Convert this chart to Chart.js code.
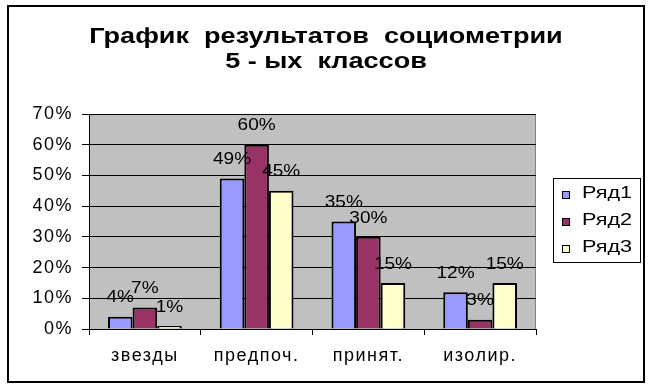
<!DOCTYPE html>
<html>
<head>
<meta charset="utf-8">
<script src="https://cdn.jsdelivr.net/npm/chart.js@4/dist/chart.umd.min.js"></script>
<style>
  html, body { margin: 0; padding: 0; background: #fff; }
  #wrap { width: 656px; height: 390px; }
</style>
</head>
<body>
<div id="wrap"><canvas id="chart" width="656" height="390"></canvas></div>
<script>
const categories = ['звезды', 'предпоч.', 'принят.', 'изолир.'];
const seriesNames = ['Ряд1', 'Ряд2', 'Ряд3'];
const row1 = [4, 49, 35, 12];
const row2 = [7, 60, 30, 3];
const row3 = [1, 45, 15, 15];
const titleLines = ['График  результатов  социометрии', '5 - ых  классов'];
const colors = ['#9999FF', '#993366', '#FFFFCC'];

const FONT = '"Liberation Sans", Arial, sans-serif';

// text in the original is stretched sideways, so draw it through a scale
function wideText(ctx, text, x, y, sx) {
    ctx.save();
    ctx.scale(sx, 1);
    ctx.fillText(text, x / sx, y);
    ctx.restore();
}

const decor = {
    id: 'decor',
    beforeDraw(chart) {
        const ctx = chart.ctx;
        const a = chart.chartArea;
        ctx.save();
        ctx.fillStyle = '#fff';
        ctx.fillRect(0, 0, chart.width, chart.height);
        ctx.fillStyle = '#C0C0C0';
        ctx.fillRect(a.left, a.top, a.right - a.left, a.bottom - a.top);
        ctx.strokeStyle = '#808080';
        ctx.lineWidth = 1;
        ctx.strokeRect(a.left + 0.5, a.top + 0.5, a.right - a.left - 1, a.bottom - a.top);
        ctx.restore();
        // tick labels: a bit of spacing to widen them
        ctx.letterSpacing = '1.5px';
    },
    afterDraw(chart) {
        const ctx = chart.ctx;
        ctx.letterSpacing = '0px';
        ctx.save();
        // outer frame
        ctx.strokeStyle = '#000';
        ctx.lineWidth = 2;
        ctx.strokeRect(8, 6, 636, 376);

        // title
        ctx.fillStyle = '#000';
        ctx.font = 'bold 22px ' + FONT;
        ctx.textAlign = 'center';
        ctx.textBaseline = 'alphabetic';
        wideText(ctx, titleLines[0], 326, 43, 1.23);
        wideText(ctx, titleLines[1], 326, 68, 1.23);

        // data labels
        ctx.font = '17px ' + FONT;
        ctx.textBaseline = 'middle';
        chart.data.datasets.forEach((ds, i) => {
            chart.getDatasetMeta(i).data.forEach((bar, j) => {
                wideText(ctx, ds.data[j] + '%', bar.x, bar.y - 19, 1.12);
            });
        });

        // legend
        ctx.lineWidth = 1;
        ctx.strokeRect(553.5, 178.5, 87, 84);
        ctx.textAlign = 'left';
        ctx.textBaseline = 'alphabetic';
        seriesNames.forEach((name, i) => {
            const y = 198 + i * 27;
            ctx.fillStyle = colors[i];
            ctx.fillRect(562, y - 7, 8, 8);
            ctx.strokeStyle = '#000';
            ctx.lineWidth = 1;
            ctx.strokeRect(562.5, y - 6.5, 7, 7);
            ctx.fillStyle = '#000';
            ctx.font = '16px ' + FONT;
            wideText(ctx, name, 582, y, 1.35);
        });
        ctx.restore();
    }
};

new Chart(document.getElementById('chart'), {
    type: 'bar',
    data: {
        labels: categories,
        datasets: [row1, row2, row3].map((d, i) => ({
            label: seriesNames[i],
            data: d,
            backgroundColor: colors[i],
            borderColor: '#000',
            borderWidth: 2,
            borderSkipped: 'bottom',
            categoryPercentage: 0.66,
            barPercentage: 1.0
        }))
    },
    options: {
        responsive: false,
        animation: false,
        layout: { padding: { top: 114, right: 120, left: 0, bottom: 0 } },
        plugins: {
            legend: { display: false },
            title: { display: false },
            tooltip: { enabled: false }
        },
        scales: {
            x: {
                offset: true,
                grid: { offset: true, drawOnChartArea: false, color: '#000', tickLength: 6, lineWidth: 1 },
                border: { color: '#000', width: 1 },
                ticks: { color: '#000', font: { family: FONT, size: 18 }, padding: 10 },
                afterFit(scale) { scale.height = 61; }
            },
            y: {
                min: 0,
                max: 70,
                ticks: {
                    stepSize: 10,
                    color: '#000',
                    font: { family: FONT, size: 18 },
                    padding: 9,
                    callback: v => v + '%'
                },
                grid: { color: '#000', lineWidth: 1, tickLength: 7 },
                border: { color: '#000', width: 1 },
                afterFit(scale) { scale.width = 89; }
            }
        }
    },
    plugins: [decor]
});
</script>
</body>
</html>
